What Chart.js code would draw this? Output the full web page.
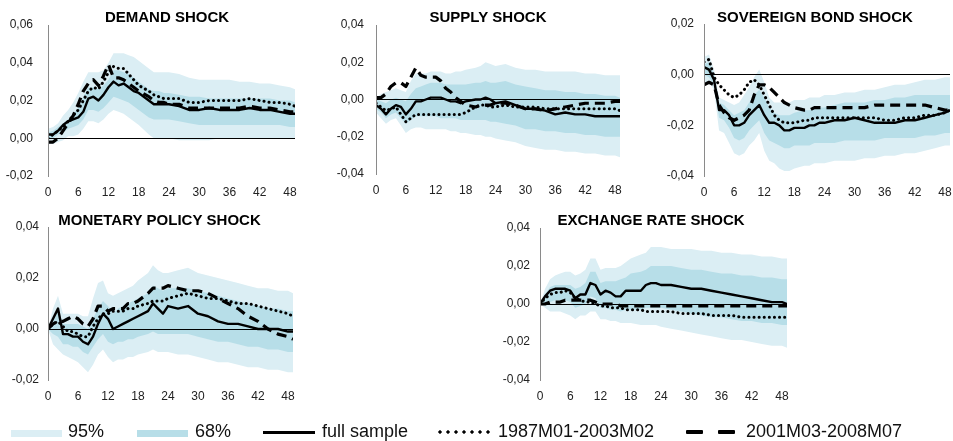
<!DOCTYPE html>
<html>
<head>
<meta charset="utf-8">
<title>Impulse responses by shock</title>
<script src="https://cdn.jsdelivr.net/npm/chart.js@4.4.1/dist/chart.umd.min.js"></script>
<style>
    html, body { margin: 0; padding: 0; width: 953px; height: 441px; overflow: hidden; background: #fff; }
    canvas { position: absolute; }
    #legend { position: absolute; left: 0; top: 0; width: 953px; height: 441px; pointer-events: none;
              font: 18px "Liberation Sans", Arial, sans-serif; color: #111; }
    #legend span { position: absolute; top: 419px; line-height: 24px; white-space: nowrap; }
    #legend i { position: absolute; display: block; }
</style>
</head>
<body>
<canvas id="c-demand" width="298" height="197" style="left:3px;top:3px"></canvas>
<canvas id="c-supply" width="295" height="195" style="left:331px;top:3px"></canvas>
<canvas id="c-sovereign" width="297" height="198" style="left:659px;top:2px"></canvas>
<canvas id="c-monetary" width="296" height="199" style="left:3px;top:205px"></canvas>
<canvas id="c-exchange" width="298" height="198" style="left:495px;top:206px"></canvas>

<div id="legend">
    <i style="left:11px;top:430px;width:51px;height:7px;background:#dbeef4"></i>
    <span style="left:68px">95%</span>
    <i style="left:137px;top:430px;width:51px;height:7px;background:#b7dee8"></i>
    <span style="left:195px">68%</span>
    <i style="left:263px;top:431px;width:52px;height:3px;background:#000"></i>
    <span style="left:322px">full sample</span>
    <i style="left:436px;top:430px;width:56px;height:4px;background:radial-gradient(circle, #000 1.4px, transparent 1.9px) 0 0 / 8px 4px repeat-x"></i>
    <span style="left:498px">1987M01-2003M02</span>
    <i style="left:686px;top:430px;width:17px;height:4px;background:#000;border-radius:1px"></i>
    <i style="left:718px;top:430px;width:17px;height:4px;background:#000;border-radius:1px"></i>
    <span style="left:746px">2001M03-2008M07</span>
</div>

<script>
// horizon (months after the shock) at which the responses are read
const months = [0,1,2,3,4,5,6,7,8,9,10,11,12,13,14,15,16,17,18,20,21,22,23,24,26,28,30,32,34,36,38,40,42,44,46,48,49];
const xTicks = [0,6,12,18,24,30,36,42,48];

// demand shock
const demandFull  = [.002,.002,.004,.007,.009,.010,.011,.014,.021,.022,.020,.023,.027,.030,.028,.029,.027,.025,.024,.020,.018,.018,.018,.018,.017,.015,.015,.016,.015,.015,.015,.016,.015,.015,.014,.013,.013];
const demandEarly = [.000,.002,.004,.006,.009,.012,.015,.020,.025,.027,.026,.030,.035,.038,.037,.037,.034,.031,.028,.025,.023,.022,.021,.021,.021,.019,.019,.020,.020,.020,.020,.021,.020,.019,.019,.018,.017];
const demandLate  = [-.002,-.002,.000,.004,.008,.012,.018,.025,.029,.031,.028,.033,.039,.032,.032,.031,.029,.027,.025,.022,.020,.019,.019,.018,.018,.016,.016,.016,.016,.016,.016,.017,.016,.016,.015,.014,.014];
const demandHi95  = [.005,.006,.008,.012,.015,.019,.024,.030,.035,.035,.035,.036,.040,.045,.045,.045,.044,.043,.041,.037,.035,.035,.035,.035,.034,.032,.031,.031,.031,.031,.030,.030,.029,.029,.028,.027,.026];
const demandLo95  = [-.003,-.003,-.002,-.001,.001,.001,.002,.005,.009,.009,.008,.010,.013,.015,.014,.013,.011,.009,.007,.002,.000,.000,.000,.000,-.001,-.001,-.001,-.001,.000,.000,.000,.000,.000,.000,.000,.000,.000];
const demandHi68  = [.003,.004,.006,.008,.010,.013,.016,.022,.027,.027,.026,.028,.031,.036,.036,.035,.034,.032,.030,.026,.025,.025,.024,.024,.023,.022,.022,.021,.021,.021,.021,.021,.021,.021,.020,.020,.019];
const demandLo68  = [.000,.000,.002,.003,.005,.006,.007,.010,.015,.015,.014,.016,.019,.022,.021,.020,.019,.017,.015,.011,.010,.010,.010,.010,.009,.008,.007,.007,.007,.007,.007,.007,.007,.007,.007,.006,.006];
const demandTicks = [-0.02, 0, 0.02, 0.04, 0.06];

// supply shock
const supplyFull  = [-.003,-.005,-.008,-.005,-.003,-.004,-.008,-.005,-.001,-.001,.000,.001,.001,.001,.000,-.001,-.001,-.002,-.001,.000,.000,.001,.000,-.002,-.001,-.003,-.005,-.005,-.006,-.008,-.007,-.008,-.008,-.009,-.009,-.009,-.009];
const supplyEarly = [-.002,-.004,-.006,-.005,-.004,-.008,-.012,-.010,-.008,-.008,-.008,-.008,-.008,-.008,-.008,-.008,-.008,-.008,-.007,-.004,-.003,-.003,-.004,-.004,-.003,-.004,-.004,-.004,-.005,-.005,-.005,-.005,-.005,-.005,-.005,-.005,-.006];
const supplyLate  = [.001,.001,.003,.007,.009,.009,.007,.012,.017,.013,.012,.012,.012,.010,.006,.004,.001,-.001,-.003,-.004,-.003,-.003,-.003,-.002,-.002,-.003,-.005,-.005,-.006,-.005,-.004,-.003,-.002,-.002,-.002,-.001,-.001];
const supplyHi95  = [.001,.003,.004,.005,.006,.005,.004,.010,.014,.014,.014,.015,.015,.015,.014,.014,.015,.015,.016,.017,.018,.020,.019,.018,.019,.017,.016,.016,.015,.015,.015,.015,.014,.014,.013,.013,.013];
const supplyLo95  = [-.007,-.010,-.013,-.011,-.010,-.014,-.018,-.016,-.015,-.015,-.016,-.016,-.016,-.016,-.016,-.017,-.017,-.018,-.018,-.019,-.019,-.020,-.020,-.021,-.022,-.023,-.025,-.026,-.027,-.027,-.028,-.028,-.029,-.029,-.030,-.030,-.031];
const supplyHi68  = [.000,-.001,-.002,.000,.001,.000,-.001,.003,.006,.007,.008,.009,.009,.009,.008,.008,.008,.008,.008,.009,.009,.010,.009,.009,.010,.008,.007,.006,.005,.005,.004,.004,.003,.003,.002,.002,.001];
const supplyLo68  = [-.005,-.007,-.010,-.008,-.007,-.010,-.013,-.011,-.009,-.009,-.009,-.009,-.009,-.010,-.010,-.010,-.010,-.011,-.011,-.011,-.011,-.011,-.012,-.012,-.013,-.014,-.016,-.016,-.017,-.017,-.018,-.018,-.019,-.019,-.020,-.020,-.020];
const supplyTicks = [-0.04, -0.02, 0, 0.02, 0.04];

// sovereign bond shock
const sovereignFull  = [.003,.002,-.002,-.014,-.014,-.016,-.020,-.020,-.019,-.016,-.014,-.012,-.016,-.019,-.019,-.020,-.022,-.022,-.021,-.021,-.020,-.020,-.019,-.019,-.018,-.018,-.017,-.018,-.019,-.019,-.019,-.018,-.018,-.017,-.016,-.015,-.014];
const sovereignEarly = [.005,.006,-.001,-.004,-.006,-.008,-.009,-.008,-.006,-.003,-.002,-.004,-.008,-.012,-.016,-.018,-.019,-.019,-.019,-.018,-.018,-.017,-.017,-.017,-.017,-.017,-.017,-.017,-.017,-.018,-.018,-.017,-.017,-.016,-.016,-.015,-.014];
const sovereignLate  = [-.004,-.003,-.004,-.012,-.015,-.017,-.018,-.017,-.016,-.014,-.008,-.004,-.004,-.005,-.007,-.009,-.011,-.012,-.013,-.014,-.014,-.013,-.013,-.013,-.013,-.013,-.013,-.013,-.012,-.012,-.012,-.012,-.012,-.012,-.013,-.014,-.014];
const sovereignHi95  = [.007,.008,.002,-.009,-.010,-.011,-.012,-.011,-.008,-.005,-.001,.002,-.003,-.009,-.011,-.011,-.011,-.011,-.010,-.010,-.009,-.009,-.009,-.008,-.008,-.007,-.007,-.006,-.006,-.005,-.004,-.004,-.003,-.002,-.002,-.001,-.001];
const sovereignLo95  = [-.003,-.003,-.006,-.022,-.023,-.027,-.031,-.032,-.031,-.028,-.026,-.023,-.030,-.034,-.035,-.037,-.038,-.038,-.037,-.036,-.036,-.035,-.035,-.035,-.034,-.034,-.034,-.033,-.033,-.032,-.032,-.031,-.031,-.030,-.029,-.028,-.028];
const sovereignHi68  = [.004,.005,.000,-.011,-.012,-.014,-.016,-.015,-.014,-.011,-.008,-.006,-.009,-.013,-.015,-.016,-.016,-.016,-.015,-.014,-.014,-.013,-.013,-.013,-.012,-.011,-.011,-.011,-.010,-.010,-.009,-.009,-.008,-.008,-.008,-.008,-.008];
const sovereignLo68  = [.000,-.001,-.004,-.017,-.018,-.021,-.025,-.026,-.025,-.022,-.020,-.018,-.023,-.026,-.027,-.028,-.029,-.029,-.028,-.028,-.028,-.027,-.027,-.027,-.027,-.026,-.026,-.026,-.026,-.025,-.025,-.025,-.025,-.024,-.024,-.023,-.023];
const sovereignTicks = [-0.04, -0.02, 0, 0.02];

// monetary policy shock
const monetaryFull  = [.000,.004,.008,-.002,-.002,-.003,-.003,-.005,-.006,-.003,.002,.006,.004,.000,.001,.002,.003,.004,.005,.007,.010,.008,.006,.009,.008,.009,.006,.005,.003,.002,.002,.001,.000,.000,.000,-.001,-.001];
const monetaryEarly = [.000,.002,.003,.001,-.001,-.001,-.002,-.003,-.003,.001,.004,.006,.006,.007,.007,.007,.008,.008,.009,.010,.011,.011,.011,.012,.013,.014,.013,.012,.012,.011,.010,.010,.009,.008,.007,.006,.005];
const monetaryLate  = [.000,.002,.003,.003,.004,.005,.004,.002,.001,.004,.009,.009,.007,.008,.008,.008,.010,.010,.011,.014,.016,.016,.016,.017,.016,.015,.015,.014,.012,.010,.008,.005,.003,.000,-.002,-.003,-.004];
const monetaryHi95  = [.000,.008,.013,.006,.006,.006,.006,.005,.005,.012,.018,.019,.014,.013,.014,.015,.016,.017,.019,.022,.025,.023,.022,.022,.023,.024,.022,.021,.020,.019,.018,.017,.016,.016,.015,.015,.014];
const monetaryLo95  = [.000,-.006,-.008,-.010,-.011,-.012,-.013,-.015,-.017,-.014,-.010,-.008,-.011,-.013,-.012,-.012,-.011,-.011,-.010,-.009,-.008,-.009,-.009,-.009,-.010,-.010,-.011,-.012,-.013,-.013,-.014,-.015,-.015,-.016,-.016,-.017,-.017];
const monetaryHi68  = [.000,.004,.008,.002,.002,.002,.002,.001,.000,.004,.008,.011,.009,.006,.008,.009,.010,.011,.012,.014,.017,.016,.015,.016,.016,.016,.015,.014,.013,.012,.011,.010,.009,.008,.008,.007,.007];
const monetaryLo68  = [.000,-.002,-.003,-.006,-.006,-.007,-.007,-.009,-.010,-.007,-.004,-.002,-.005,-.006,-.005,-.005,-.004,-.004,-.003,-.002,-.001,-.002,-.002,-.002,-.002,-.002,-.003,-.004,-.005,-.005,-.006,-.007,-.007,-.008,-.008,-.009,-.009];
const monetaryTicks = [-0.02, 0, 0.02, 0.04];

// exchange rate shock
const exchangeFull  = [.000,.004,.007,.008,.008,.008,.007,.003,.005,.005,.011,.010,.005,.007,.006,.004,.004,.007,.007,.007,.010,.011,.011,.010,.010,.009,.008,.008,.007,.006,.005,.004,.003,.002,.001,.001,.000];
const exchangeEarly = [.000,.003,.005,.006,.006,.007,.006,.003,.002,.001,.001,.000,-.001,-.001,-.002,-.002,-.002,-.003,-.003,-.003,-.004,-.004,-.004,-.004,-.004,-.005,-.005,-.005,-.006,-.006,-.006,-.007,-.007,-.007,-.007,-.007,-.007];
const exchangeLate  = [.000,.000,.001,.001,.001,.002,.002,.002,.002,.002,.002,.001,.000,.000,.000,.000,-.001,-.001,-.001,-.001,-.001,-.001,-.001,-.001,-.001,-.001,-.001,-.001,-.001,-.001,-.001,-.001,-.001,-.001,-.001,-.001,-.001];
const exchangeHi95  = [.000,.008,.013,.015,.016,.017,.017,.015,.016,.018,.024,.024,.018,.019,.019,.019,.020,.022,.024,.026,.027,.030,.030,.030,.029,.029,.029,.028,.028,.027,.027,.026,.026,.025,.025,.024,.024];
const exchangeLo95  = [.000,-.002,-.004,-.004,-.004,-.005,-.006,-.008,-.006,-.006,-.004,-.004,-.008,-.008,-.009,-.009,-.010,-.010,-.010,-.011,-.011,-.011,-.011,-.012,-.013,-.014,-.015,-.016,-.017,-.018,-.019,-.019,-.020,-.021,-.022,-.022,-.023];
const exchangeHi68  = [.000,.005,.009,.010,.010,.010,.010,.008,.009,.011,.017,.017,.011,.012,.012,.012,.013,.014,.016,.017,.018,.020,.020,.020,.020,.019,.018,.018,.017,.016,.016,.015,.015,.014,.014,.013,.013];
const exchangeLo68  = [.000,.000,.001,.002,.002,.002,.001,-.002,-.001,.000,.004,.003,-.002,-.002,-.003,-.003,-.004,-.003,-.003,-.003,-.002,-.002,-.002,-.002,-.003,-.004,-.005,-.006,-.007,-.007,-.008,-.009,-.009,-.010,-.010,-.011,-.011];
const exchangeTicks = [-0.04, -0.02, 0, 0.02, 0.04];

const FONT = '"Liberation Sans", Arial, sans-serif';
const C95 = '#dbeef4';
const C68 = '#b7dee8';

// draws the bold panel heading at a fixed spot of the canvas
const panelTitle = {
    id: 'panelTitle',
    afterDraw(chart, args, opts) {
        const ctx = chart.ctx;
        ctx.save();
        ctx.font = 'bold 15px ' + FONT;
        ctx.fillStyle = '#000';
        ctx.textAlign = 'center';
        ctx.textBaseline = 'middle';
        ctx.fillText(opts.text, opts.x, opts.y);
        ctx.restore();
    }
};

function band(data, fill, color, order) {
    return { data, fill, order, backgroundColor: color, borderWidth: 0, pointRadius: 0 };
}

function line(label, data, width, dash, cap, order) {
    return {
        label, data, order, fill: false,
        borderColor: '#000', borderWidth: width, borderDash: dash, borderCapStyle: cap,
        borderJoinStyle: 'round', pointRadius: 0
    };
}

/**
 * one impulse-response panel: 95% and 68% bands plus the three sample lines
 * s: {full, early, late, hi95, lo95, hi68, lo68}
 */
function makePanel(id, title, yTicks, s, look) {
    const ctx = document.getElementById(id).getContext('2d');
    return new Chart(ctx, {
        type: 'line',
        data: {
            labels: months,
            datasets: [
                band(s.lo95, false, C95, 4),
                band(s.hi95, '-1', C95, 4),
                band(s.lo68, false, C68, 3),
                band(s.hi68, '-1', C68, 3),
                line('full sample', s.full, 2.4, [], 'butt', 2),
                line('1987M01-2003M02', s.early, 3, [0.1, 5], 'round', 1),
                line('2001M03-2008M07', s.late, 3.2, [10, 6], 'butt', 0)
            ]
        },
        plugins: [panelTitle],
        options: {
            responsive: false,
            animation: false,
            devicePixelRatio: 1,
            events: [],
            layout: { padding: { top: 22, right: 6, left: 0, bottom: 0 } },
            elements: { line: { tension: 0 } },
            plugins: {
                legend: { display: false },
                tooltip: { enabled: false },
                title: { display: false },
                panelTitle: { text: title, x: look.tx, y: look.ty }
            },
            scales: {
                x: {
                    type: 'linear', min: 0, max: 49,
                    grid: { display: false, drawTicks: false },
                    border: { display: false },
                    ticks: { autoSkip: false, maxRotation: 0, padding: 9, color: '#222', font: { family: FONT, size: 12 } },
                    afterBuildTicks: sc => { sc.ticks = xTicks.map(v => ({ value: v })); },
                    afterFit: sc => { sc.height = 24; sc.paddingLeft = 0; sc.paddingRight = 0; }
                },
                y: {
                    min: yTicks[0], max: yTicks[yTicks.length - 1],
                    grid: {
                        z: 1, drawTicks: false, lineWidth: 1,
                        color: c => Math.abs(c.tick.value) < 1e-9 ? '#000' : 'rgba(0,0,0,0)'
                    },
                    border: { display: true, color: '#8a8a8a', width: 1, z: 1 },
                    ticks: {
                        padding: look.pad, color: '#222', font: { family: FONT, size: 12 },
                        callback: v => v.toFixed(2).replace('.', ',')
                    },
                    afterBuildTicks: sc => { sc.ticks = yTicks.map(v => ({ value: v })); },
                    afterFit: sc => { sc.width = 45; sc.paddingTop = 0; sc.paddingBottom = 0; }
                }
            }
        }
    });
}

makePanel('c-demand', 'DEMAND SHOCK', demandTicks,
    { full: demandFull, early: demandEarly, late: demandLate, hi95: demandHi95, lo95: demandLo95, hi68: demandHi68, lo68: demandLo68 },
    { tx: 164, ty: 14.5, pad: 15 });
makePanel('c-supply', 'SUPPLY SHOCK', supplyTicks,
    { full: supplyFull, early: supplyEarly, late: supplyLate, hi95: supplyHi95, lo95: supplyLo95, hi68: supplyHi68, lo68: supplyLo68 },
    { tx: 157, ty: 14.5, pad: 12 });
makePanel('c-sovereign', 'SOVEREIGN BOND SHOCK', sovereignTicks,
    { full: sovereignFull, early: sovereignEarly, late: sovereignLate, hi95: sovereignHi95, lo95: sovereignLo95, hi68: sovereignHi68, lo68: sovereignLo68 },
    { tx: 156, ty: 15.5, pad: 10 });
makePanel('c-monetary', 'MONETARY POLICY SHOCK', monetaryTicks,
    { full: monetaryFull, early: monetaryEarly, late: monetaryLate, hi95: monetaryHi95, lo95: monetaryLo95, hi68: monetaryHi68, lo68: monetaryLo68 },
    { tx: 156.5, ty: 16, pad: 9 });
makePanel('c-exchange', 'EXCHANGE RATE SHOCK', exchangeTicks,
    { full: exchangeFull, early: exchangeEarly, late: exchangeLate, hi95: exchangeHi95, lo95: exchangeLo95, hi68: exchangeHi68, lo68: exchangeLo68 },
    { tx: 156, ty: 15, pad: 10 });
</script>
</body>
</html>
